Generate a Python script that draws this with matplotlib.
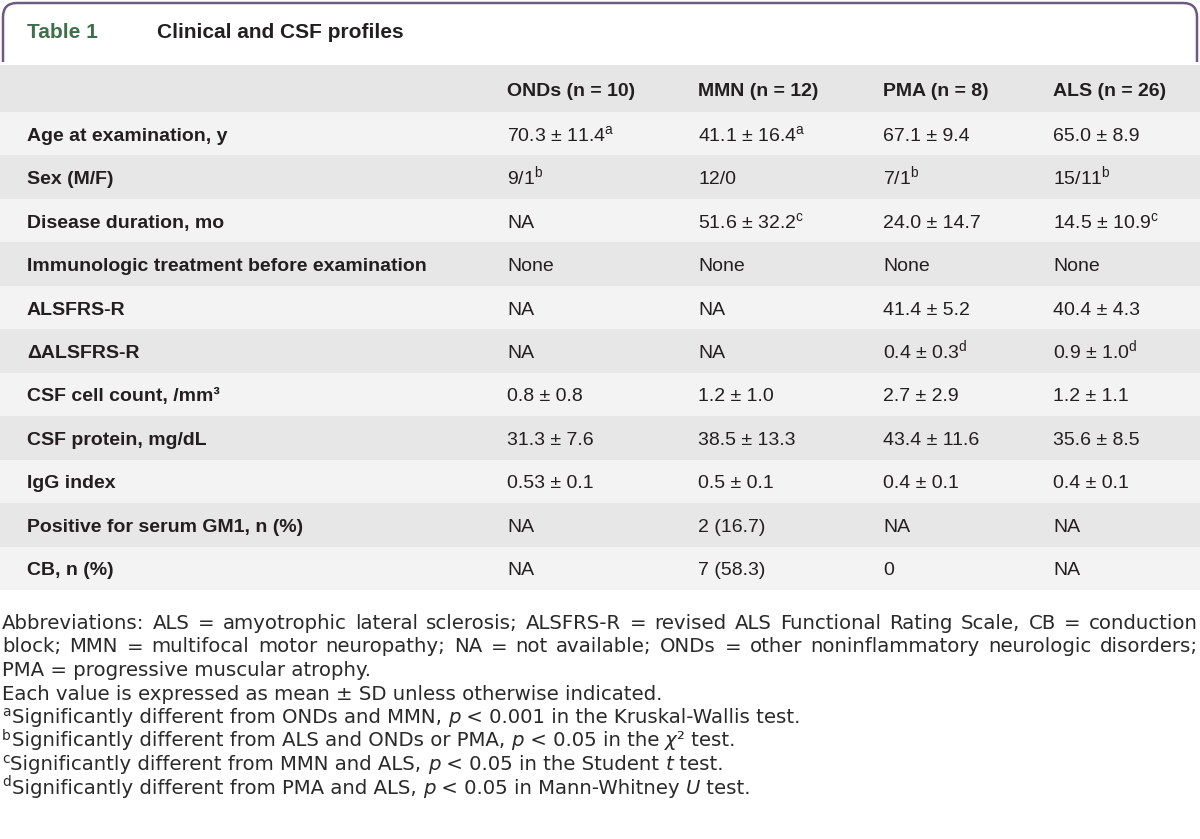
import matplotlib
matplotlib.use("Agg")
import matplotlib.pyplot as plt
from matplotlib.path import Path
from matplotlib.patches import PathPatch, Rectangle

plt.rcParams["font.family"] = ["Liberation Sans", "DejaVu Sans"]
plt.rcParams["mathtext.fontset"] = "custom"
plt.rcParams["mathtext.rm"] = "Liberation Sans"
plt.rcParams["mathtext.it"] = "Liberation Sans:italic"
plt.rcParams["mathtext.bf"] = "Liberation Sans:bold"

# table content
table_no = "Table 1"
title = "Clinical and CSF profiles"
groups = ["ONDs (n = 10)", "MMN (n = 12)", "PMA (n = 8)", "ALS (n = 26)"]
row_labels = [
    "Age at examination, y",
    "Sex (M/F)",
    "Disease duration, mo",
    "Immunologic treatment before examination",
    "ALSFRS-R",
    "ΔALSFRS-R",
    "CSF cell count, /mm³",
    "CSF protein, mg/dL",
    "IgG index",
    "Positive for serum GM1, n (%)",
    "CB, n (%)",
]
onds = ["70.3 ± 11.4^a", "9/1^b", "NA", "None", "NA", "NA",
        "0.8 ± 0.8", "31.3 ± 7.6", "0.53 ± 0.1", "NA", "NA"]
mmn = ["41.1 ± 16.4^a", "12/0", "51.6 ± 32.2^c", "None", "NA", "NA",
       "1.2 ± 1.0", "38.5 ± 13.3", "0.5 ± 0.1", "2 (16.7)", "7 (58.3)"]
pma = ["67.1 ± 9.4", "7/1^b", "24.0 ± 14.7", "None", "41.4 ± 5.2", "0.4 ± 0.3^d",
       "2.7 ± 2.9", "43.4 ± 11.6", "0.4 ± 0.1", "NA", "0"]
als = ["65.0 ± 8.9", "15/11^b", "14.5 ± 10.9^c", "None", "40.4 ± 4.3", "0.9 ± 1.0^d",
       "1.2 ± 1.1", "35.6 ± 8.5", "0.4 ± 0.1", "NA", "NA"]
columns = [onds, mmn, pma, als]

# abbreviation paragraph, broken where the reference breaks it
abbrev_lines = [
    "Abbreviations: ALS = amyotrophic lateral sclerosis; ALSFRS-R = revised ALS "
    "Functional Rating Scale, CB = conduction",
    "block; MMN = multifocal motor neuropathy; NA = not available; ONDs = other "
    "noninflammatory neurologic disorders;",
    "PMA = progressive muscular atrophy.",
]
# footnotes: "^x" = superscript mark, *...* = italic
notes = [
    "Each value is expressed as mean ± SD unless otherwise indicated.",
    "^aSignificantly different from ONDs and MMN, *p* < 0.001 in the Kruskal-Wallis test.",
    "^bSignificantly different from ALS and ONDs or PMA, *p* < 0.05 in the *χ*² test.",
    "^cSignificantly different from MMN and ALS, *p* < 0.05 in the Student *t* test.",
    "^dSignificantly different from PMA and ALS, *p* < 0.05 in Mann-Whitney *U* test.",
]


def fmt(v):
    if "^" in v:
        base, sup = v.split("^")
        return base + r"$^{\mathrm{" + sup + "}}$"
    return v


W, H = 1200, 839
fig = plt.figure(figsize=(12, 8.39), dpi=100)
ax = fig.add_axes([0, 0, 1, 1])
ax.set_xlim(0, W)
ax.set_ylim(H, 0)
ax.axis("off")

ink = "#231f20"
purple = "#6e5a80"

# title box with rounded top corners
r = 14
verts = [(3, 62), (3, 3 + r), (3, 3), (3 + r, 3), (W - 3 - r, 3), (W - 3, 3),
         (W - 3, 3 + r), (W - 3, 62)]
codes = [Path.MOVETO, Path.LINETO, Path.CURVE3, Path.CURVE3, Path.LINETO,
         Path.CURVE3, Path.CURVE3, Path.LINETO]
ax.add_patch(PathPatch(Path(verts, codes), fill=False, ec=purple, lw=1.8))
ax.text(27, 38, table_no, color="#3f6e4b", fontsize=15, fontweight="bold", va="baseline")
ax.text(157, 38, title, color=ink, fontsize=15, fontweight="bold", va="baseline")

# rows
top, head_h = 65, 47
row_h = (590 - top - head_h) / len(row_labels)
col_x = [507, 698, 883, 1053]
base_off = 7
ax.add_patch(Rectangle((0, top), W, head_h, fc="#e6e6e6", ec="none"))
for x, g in zip(col_x, groups):
    ax.text(x, top + head_h / 2 + base_off, g, color=ink, fontsize=14,
            fontweight="bold", va="baseline")

for i, lab in enumerate(row_labels):
    y0 = top + head_h + i * row_h
    fc = "#f3f3f3" if i % 2 == 0 else "#e7e7e7"
    ax.add_patch(Rectangle((0, y0), W, row_h, fc=fc, ec="none"))
    yb = y0 + row_h / 2 + base_off
    ax.text(27, yb, lab, color=ink, fontsize=14, fontweight="bold", va="baseline")
    for x, col in zip(col_x, columns):
        ax.text(x, yb, fmt(col[i]), color=ink, fontsize=14, va="baseline")

# footnotes, in a wider face like the reference
fig.canvas.draw()
renderer = fig.canvas.get_renderer()
fs = 14.2
fn = dict(fontsize=fs, family="DejaVu Sans", color="#2a2a2a", va="baseline")
left, right = 2, W - 2
line_y = 623 + 6
step = 23.5


def width(s, **kw):
    # measure with a guard glyph so trailing spaces count
    opts = dict(fn, **kw)
    t1 = ax.text(0, 0, s + "|", **opts)
    t2 = ax.text(0, 0, "|", **opts)
    w = t1.get_window_extent(renderer).width - t2.get_window_extent(renderer).width
    t1.remove()
    t2.remove()
    return w


y = line_y
for k, line in enumerate(abbrev_lines):
    words = line.split(" ")
    if k < len(abbrev_lines) - 1:
        ws = [width(w) for w in words]
        gap = (right - left - sum(ws)) / (len(words) - 1)
        x = left
        for w, wd in zip(words, ws):
            ax.text(x, y, w, **fn)
            x += wd + gap
    else:
        ax.text(left, y, line, **fn)
    y += step

sup_fs = fs * 0.7
for n in notes:
    x = left
    if n.startswith("^"):
        mark, n = n[1], n[2:]
        ax.text(x, y - 7, mark, **dict(fn, fontsize=sup_fs))
        x += width(mark, fontsize=sup_fs) + 1
    for j, seg in enumerate(n.split("*")):
        if not seg:
            continue
        style = "italic" if j % 2 else "normal"
        ax.text(x, y, seg, style=style, **fn)
        x += width(seg, style=style)
    y += step

fig.savefig("out.png", dpi=100, facecolor="white")
